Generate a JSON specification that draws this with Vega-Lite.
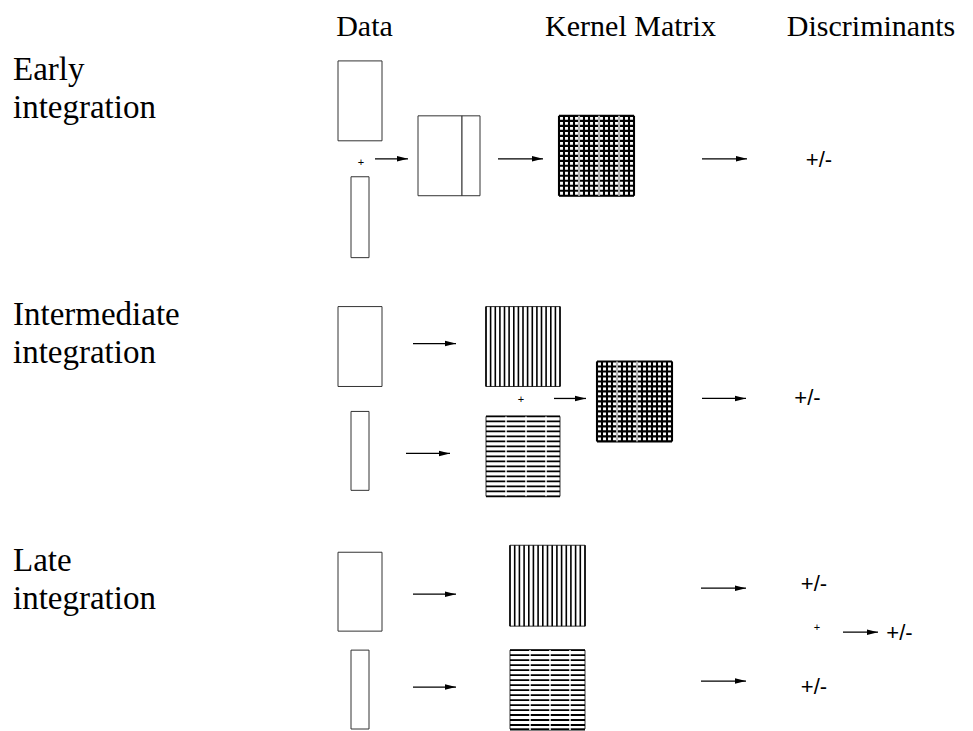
{
  "$schema": "https://vega.github.io/schema/vega-lite/v6.json",
  "autosize": {"type": "fit", "contains": "padding"},
  "padding": 0,
  "width": 973,
  "height": 731,
  "background": "white",
  "config": {"view": {"stroke": null}},
  "datasets": {
    "headers": [
      {"t": "Data", "x": 364.5, "y": 36},
      {"t": "Kernel Matrix", "x": 630.5, "y": 36},
      {"t": "Discriminants", "x": 871, "y": 36}
    ],
    "side": [
      {"t": "Early", "x": 13, "y": 80},
      {"t": "integration", "x": 13, "y": 118},
      {"t": "Intermediate", "x": 13, "y": 325},
      {"t": "integration", "x": 13, "y": 363},
      {"t": "Late", "x": 13, "y": 572},
      {"t": "integration", "x": 13, "y": 610}
    ],
    "pm": [
      {"t": "+/-", "x": 819, "y": 160},
      {"t": "+/-", "x": 807.5, "y": 399},
      {"t": "+/-", "x": 814, "y": 585},
      {"t": "+/-", "x": 899.5, "y": 634},
      {"t": "+/-", "x": 814, "y": 688}
    ],
    "plus": [
      {"t": "+", "x": 361, "y": 163},
      {"t": "+", "x": 521, "y": 401},
      {"t": "+", "x": 817, "y": 629}
    ],
    "box": [
      {"m": "earlyA", "x": 338, "x2": 382, "y": 61, "y2": 141},
      {"m": "earlyB", "x": 351, "x2": 369, "y": 177, "y2": 258},
      {"m": "earlyC1", "x": 418, "x2": 462, "y": 116, "y2": 196},
      {"m": "earlyC2", "x": 462, "x2": 480, "y": 116, "y2": 196},
      {"m": "interA", "x": 338, "x2": 382, "y": 307, "y2": 387},
      {"m": "interB", "x": 351, "x2": 369, "y": 412, "y2": 491},
      {"m": "lateA", "x": 338, "x2": 382, "y": 553, "y2": 632},
      {"m": "lateB", "x": 351, "x2": 369, "y": 651, "y2": 730},
      {"m": "earlyK", "x": 559, "x2": 634, "y": 116, "y2": 196},
      {"m": "interV", "x": 486, "x2": 560, "y": 307, "y2": 387},
      {"m": "interH", "x": 486, "x2": 560, "y": 417, "y2": 497},
      {"m": "interK", "x": 597, "x2": 672, "y": 362, "y2": 442},
      {"m": "lateV", "x": 510, "x2": 585, "y": 546, "y2": 627},
      {"m": "lateH", "x": 510, "x2": 585, "y": 651, "y2": 730}
    ],
    "kv": [
      {"m": "earlyK", "x": 559, "y": 116, "y2": 196},
      {"m": "earlyK", "x": 564, "y": 116, "y2": 196},
      {"m": "earlyK", "x": 569, "y": 116, "y2": 196},
      {"m": "earlyK", "x": 574, "y": 116, "y2": 196},
      {"m": "earlyK", "x": 579, "y": 116, "y2": 196},
      {"m": "earlyK", "x": 584, "y": 116, "y2": 196},
      {"m": "earlyK", "x": 589, "y": 116, "y2": 196},
      {"m": "earlyK", "x": 594, "y": 116, "y2": 196},
      {"m": "earlyK", "x": 599, "y": 116, "y2": 196},
      {"m": "earlyK", "x": 604, "y": 116, "y2": 196},
      {"m": "earlyK", "x": 609, "y": 116, "y2": 196},
      {"m": "earlyK", "x": 614, "y": 116, "y2": 196},
      {"m": "earlyK", "x": 619, "y": 116, "y2": 196},
      {"m": "earlyK", "x": 624, "y": 116, "y2": 196},
      {"m": "earlyK", "x": 629, "y": 116, "y2": 196},
      {"m": "earlyK", "x": 634, "y": 116, "y2": 196},
      {"m": "interK", "x": 597, "y": 362, "y2": 442},
      {"m": "interK", "x": 602, "y": 362, "y2": 442},
      {"m": "interK", "x": 607, "y": 362, "y2": 442},
      {"m": "interK", "x": 612, "y": 362, "y2": 442},
      {"m": "interK", "x": 617, "y": 362, "y2": 442},
      {"m": "interK", "x": 622, "y": 362, "y2": 442},
      {"m": "interK", "x": 627, "y": 362, "y2": 442},
      {"m": "interK", "x": 632, "y": 362, "y2": 442},
      {"m": "interK", "x": 637, "y": 362, "y2": 442},
      {"m": "interK", "x": 642, "y": 362, "y2": 442},
      {"m": "interK", "x": 647, "y": 362, "y2": 442},
      {"m": "interK", "x": 652, "y": 362, "y2": 442},
      {"m": "interK", "x": 657, "y": 362, "y2": 442},
      {"m": "interK", "x": 662, "y": 362, "y2": 442},
      {"m": "interK", "x": 667, "y": 362, "y2": 442},
      {"m": "interK", "x": 672, "y": 362, "y2": 442}
    ],
    "kh": [
      {"m": "earlyK", "y": 116, "x": 559, "x2": 634},
      {"m": "earlyK", "y": 121, "x": 559, "x2": 634},
      {"m": "earlyK", "y": 126, "x": 559, "x2": 634},
      {"m": "earlyK", "y": 131, "x": 559, "x2": 634},
      {"m": "earlyK", "y": 136, "x": 559, "x2": 634},
      {"m": "earlyK", "y": 141, "x": 559, "x2": 634},
      {"m": "earlyK", "y": 146, "x": 559, "x2": 634},
      {"m": "earlyK", "y": 151, "x": 559, "x2": 634},
      {"m": "earlyK", "y": 156, "x": 559, "x2": 634},
      {"m": "earlyK", "y": 161, "x": 559, "x2": 634},
      {"m": "earlyK", "y": 166, "x": 559, "x2": 634},
      {"m": "earlyK", "y": 171, "x": 559, "x2": 634},
      {"m": "earlyK", "y": 176, "x": 559, "x2": 634},
      {"m": "earlyK", "y": 181, "x": 559, "x2": 634},
      {"m": "earlyK", "y": 186, "x": 559, "x2": 634},
      {"m": "earlyK", "y": 191, "x": 559, "x2": 634},
      {"m": "earlyK", "y": 196, "x": 559, "x2": 634},
      {"m": "interK", "y": 362, "x": 597, "x2": 672},
      {"m": "interK", "y": 367, "x": 597, "x2": 672},
      {"m": "interK", "y": 372, "x": 597, "x2": 672},
      {"m": "interK", "y": 377, "x": 597, "x2": 672},
      {"m": "interK", "y": 382, "x": 597, "x2": 672},
      {"m": "interK", "y": 387, "x": 597, "x2": 672},
      {"m": "interK", "y": 392, "x": 597, "x2": 672},
      {"m": "interK", "y": 397, "x": 597, "x2": 672},
      {"m": "interK", "y": 402, "x": 597, "x2": 672},
      {"m": "interK", "y": 407, "x": 597, "x2": 672},
      {"m": "interK", "y": 412, "x": 597, "x2": 672},
      {"m": "interK", "y": 417, "x": 597, "x2": 672},
      {"m": "interK", "y": 422, "x": 597, "x2": 672},
      {"m": "interK", "y": 427, "x": 597, "x2": 672},
      {"m": "interK", "y": 432, "x": 597, "x2": 672},
      {"m": "interK", "y": 437, "x": 597, "x2": 672},
      {"m": "interK", "y": 442, "x": 597, "x2": 672}
    ],
    "sv": [
      {"m": "interV", "x": 486, "y": 307, "y2": 387},
      {"m": "interV", "x": 490.6, "y": 307, "y2": 387},
      {"m": "interV", "x": 495.3, "y": 307, "y2": 387},
      {"m": "interV", "x": 499.9, "y": 307, "y2": 387},
      {"m": "interV", "x": 504.5, "y": 307, "y2": 387},
      {"m": "interV", "x": 509.1, "y": 307, "y2": 387},
      {"m": "interV", "x": 513.8, "y": 307, "y2": 387},
      {"m": "interV", "x": 518.4, "y": 307, "y2": 387},
      {"m": "interV", "x": 523, "y": 307, "y2": 387},
      {"m": "interV", "x": 527.6, "y": 307, "y2": 387},
      {"m": "interV", "x": 532.3, "y": 307, "y2": 387},
      {"m": "interV", "x": 536.9, "y": 307, "y2": 387},
      {"m": "interV", "x": 541.5, "y": 307, "y2": 387},
      {"m": "interV", "x": 546.1, "y": 307, "y2": 387},
      {"m": "interV", "x": 550.8, "y": 307, "y2": 387},
      {"m": "interV", "x": 555.4, "y": 307, "y2": 387},
      {"m": "interV", "x": 560, "y": 307, "y2": 387},
      {"m": "lateV", "x": 510, "y": 546, "y2": 627},
      {"m": "lateV", "x": 514.7, "y": 546, "y2": 627},
      {"m": "lateV", "x": 519.4, "y": 546, "y2": 627},
      {"m": "lateV", "x": 524.1, "y": 546, "y2": 627},
      {"m": "lateV", "x": 528.8, "y": 546, "y2": 627},
      {"m": "lateV", "x": 533.4, "y": 546, "y2": 627},
      {"m": "lateV", "x": 538.1, "y": 546, "y2": 627},
      {"m": "lateV", "x": 542.8, "y": 546, "y2": 627},
      {"m": "lateV", "x": 547.5, "y": 546, "y2": 627},
      {"m": "lateV", "x": 552.2, "y": 546, "y2": 627},
      {"m": "lateV", "x": 556.9, "y": 546, "y2": 627},
      {"m": "lateV", "x": 561.6, "y": 546, "y2": 627},
      {"m": "lateV", "x": 566.3, "y": 546, "y2": 627},
      {"m": "lateV", "x": 570.9, "y": 546, "y2": 627},
      {"m": "lateV", "x": 575.6, "y": 546, "y2": 627},
      {"m": "lateV", "x": 580.3, "y": 546, "y2": 627},
      {"m": "lateV", "x": 585, "y": 546, "y2": 627}
    ],
    "sh": [
      {"m": "interH", "y": 417, "x": 486, "x2": 560},
      {"m": "interH", "y": 422, "x": 486, "x2": 560},
      {"m": "interH", "y": 427, "x": 486, "x2": 560},
      {"m": "interH", "y": 432, "x": 486, "x2": 560},
      {"m": "interH", "y": 437, "x": 486, "x2": 560},
      {"m": "interH", "y": 442, "x": 486, "x2": 560},
      {"m": "interH", "y": 447, "x": 486, "x2": 560},
      {"m": "interH", "y": 452, "x": 486, "x2": 560},
      {"m": "interH", "y": 457, "x": 486, "x2": 560},
      {"m": "interH", "y": 462, "x": 486, "x2": 560},
      {"m": "interH", "y": 467, "x": 486, "x2": 560},
      {"m": "interH", "y": 472, "x": 486, "x2": 560},
      {"m": "interH", "y": 477, "x": 486, "x2": 560},
      {"m": "interH", "y": 482, "x": 486, "x2": 560},
      {"m": "interH", "y": 487, "x": 486, "x2": 560},
      {"m": "interH", "y": 492, "x": 486, "x2": 560},
      {"m": "interH", "y": 497, "x": 486, "x2": 560},
      {"m": "lateH", "y": 651, "x": 510, "x2": 585},
      {"m": "lateH", "y": 656, "x": 510, "x2": 585},
      {"m": "lateH", "y": 661, "x": 510, "x2": 585},
      {"m": "lateH", "y": 666, "x": 510, "x2": 585},
      {"m": "lateH", "y": 671, "x": 510, "x2": 585},
      {"m": "lateH", "y": 676, "x": 510, "x2": 585},
      {"m": "lateH", "y": 681, "x": 510, "x2": 585},
      {"m": "lateH", "y": 686, "x": 510, "x2": 585},
      {"m": "lateH", "y": 691, "x": 510, "x2": 585},
      {"m": "lateH", "y": 696, "x": 510, "x2": 585},
      {"m": "lateH", "y": 701, "x": 510, "x2": 585},
      {"m": "lateH", "y": 706, "x": 510, "x2": 585},
      {"m": "lateH", "y": 711, "x": 510, "x2": 585},
      {"m": "lateH", "y": 716, "x": 510, "x2": 585},
      {"m": "lateH", "y": 721, "x": 510, "x2": 585},
      {"m": "lateH", "y": 726, "x": 510, "x2": 585},
      {"m": "lateH", "y": 730.5, "x": 510, "x2": 585}
    ],
    "gap": [
      {"m": "earlyK", "x": 579, "y": 116, "y2": 196},
      {"m": "earlyK", "x": 599, "y": 116, "y2": 196},
      {"m": "earlyK", "x": 619, "y": 116, "y2": 196},
      {"m": "interK", "x": 617, "y": 362, "y2": 442},
      {"m": "interK", "x": 637, "y": 362, "y2": 442},
      {"m": "interH", "x": 506, "y": 417, "y2": 497},
      {"m": "interH", "x": 526, "y": 417, "y2": 497},
      {"m": "interH", "x": 546, "y": 417, "y2": 497},
      {"m": "lateH", "x": 530, "y": 651, "y2": 731},
      {"m": "lateH", "x": 550, "y": 651, "y2": 731},
      {"m": "lateH", "x": 570, "y": 651, "y2": 731}
    ],
    "arrow": [
      {"x": 375, "x2": 408, "y": 159},
      {"x": 498, "x2": 543, "y": 159},
      {"x": 702, "x2": 747, "y": 159},
      {"x": 413, "x2": 456, "y": 344},
      {"x": 406, "x2": 450, "y": 454},
      {"x": 554, "x2": 586, "y": 399},
      {"x": 702, "x2": 746, "y": 399},
      {"x": 413, "x2": 456, "y": 595},
      {"x": 413, "x2": 456, "y": 688},
      {"x": 701, "x2": 746, "y": 589},
      {"x": 843, "x2": 878, "y": 633},
      {"x": 701, "x2": 746, "y": 682}
    ]
  },
  "layer": [
    {
      "data": {"name": "box"},
      "mark": {"type": "rect", "fill": "white", "stroke": "#333333", "strokeWidth": 1},
      "encoding": {
        "x": {"field": "x", "type": "quantitative", "scale": {"domain": [0, 973], "nice": false, "zero": false}, "axis": null},
        "x2": {"field": "x2"},
        "y": {"field": "y", "type": "quantitative", "scale": {"domain": [0, 731], "nice": false, "zero": false, "reverse": true}, "axis": null},
        "y2": {"field": "y2"}
      }
    },
    {
      "data": {"name": "kv"},
      "mark": {"type": "rule", "color": "black", "strokeWidth": 2.1},
      "encoding": {
        "x": {"field": "x", "type": "quantitative", "scale": {"domain": [0, 973], "nice": false, "zero": false}, "axis": null},
        "y": {"field": "y", "type": "quantitative", "scale": {"domain": [0, 731], "nice": false, "zero": false, "reverse": true}, "axis": null},
        "y2": {"field": "y2"}
      }
    },
    {
      "data": {"name": "kh"},
      "mark": {"type": "rule", "color": "black", "strokeWidth": 2.2},
      "encoding": {
        "y": {"field": "y", "type": "quantitative", "scale": {"domain": [0, 731], "nice": false, "zero": false, "reverse": true}, "axis": null},
        "x": {"field": "x", "type": "quantitative", "scale": {"domain": [0, 973], "nice": false, "zero": false}, "axis": null},
        "x2": {"field": "x2"}
      }
    },
    {
      "data": {"name": "sv"},
      "mark": {"type": "rule", "color": "black", "strokeWidth": 1.6},
      "encoding": {
        "x": {"field": "x", "type": "quantitative", "scale": {"domain": [0, 973], "nice": false, "zero": false}, "axis": null},
        "y": {"field": "y", "type": "quantitative", "scale": {"domain": [0, 731], "nice": false, "zero": false, "reverse": true}, "axis": null},
        "y2": {"field": "y2"}
      }
    },
    {
      "data": {"name": "sh"},
      "mark": {"type": "rule", "color": "black", "strokeWidth": 1.8},
      "encoding": {
        "y": {"field": "y", "type": "quantitative", "scale": {"domain": [0, 731], "nice": false, "zero": false, "reverse": true}, "axis": null},
        "x": {"field": "x", "type": "quantitative", "scale": {"domain": [0, 973], "nice": false, "zero": false}, "axis": null},
        "x2": {"field": "x2"}
      }
    },
    {
      "data": {"name": "gap"},
      "mark": {"type": "rule", "color": "white", "strokeWidth": 1.4},
      "encoding": {
        "x": {"field": "x", "type": "quantitative", "scale": {"domain": [0, 973], "nice": false, "zero": false}, "axis": null},
        "y": {"field": "y", "type": "quantitative", "scale": {"domain": [0, 731], "nice": false, "zero": false, "reverse": true}, "axis": null},
        "y2": {"field": "y2"}
      }
    },
    {
      "data": {"name": "arrow"},
      "mark": {"type": "rule", "color": "black", "strokeWidth": 1.3},
      "encoding": {
        "y": {"field": "y", "type": "quantitative", "scale": {"domain": [0, 731], "nice": false, "zero": false, "reverse": true}, "axis": null},
        "x": {"field": "x", "type": "quantitative", "scale": {"domain": [0, 973], "nice": false, "zero": false}, "axis": null},
        "x2": {"field": "x2"}
      }
    },
    {
      "data": {"name": "arrow"},
      "mark": {"type": "point", "shape": "M-2,-0.5L0,0L-2,0.5Z", "filled": true, "color": "black", "opacity": 1, "size": 121, "strokeWidth": 0},
      "encoding": {
        "x": {"field": "x2", "type": "quantitative", "scale": {"domain": [0, 973], "nice": false, "zero": false}, "axis": null},
        "y": {"field": "y", "type": "quantitative", "scale": {"domain": [0, 731], "nice": false, "zero": false, "reverse": true}, "axis": null}
      }
    },
    {
      "data": {"name": "headers"},
      "mark": {"type": "text", "font": "Liberation Serif, Times New Roman, DejaVu Serif, serif", "fontSize": 30, "align": "center", "baseline": "alphabetic", "color": "black"},
      "encoding": {
        "x": {"field": "x", "type": "quantitative", "scale": {"domain": [0, 973], "nice": false, "zero": false}, "axis": null},
        "y": {"field": "y", "type": "quantitative", "scale": {"domain": [0, 731], "nice": false, "zero": false, "reverse": true}, "axis": null},
        "text": {"field": "t"}
      }
    },
    {
      "data": {"name": "side"},
      "mark": {"type": "text", "font": "Liberation Serif, Times New Roman, DejaVu Serif, serif", "fontSize": 33, "align": "left", "baseline": "alphabetic", "color": "black"},
      "encoding": {
        "x": {"field": "x", "type": "quantitative", "scale": {"domain": [0, 973], "nice": false, "zero": false}, "axis": null},
        "y": {"field": "y", "type": "quantitative", "scale": {"domain": [0, 731], "nice": false, "zero": false, "reverse": true}, "axis": null},
        "text": {"field": "t"}
      }
    },
    {
      "data": {"name": "pm"},
      "mark": {"type": "text", "font": "Liberation Sans, Arial, sans-serif", "fontSize": 22, "align": "center", "baseline": "middle", "color": "black"},
      "encoding": {
        "x": {"field": "x", "type": "quantitative", "scale": {"domain": [0, 973], "nice": false, "zero": false}, "axis": null},
        "y": {"field": "y", "type": "quantitative", "scale": {"domain": [0, 731], "nice": false, "zero": false, "reverse": true}, "axis": null},
        "text": {"field": "t"}
      }
    },
    {
      "data": {"name": "plus"},
      "mark": {"type": "text", "font": "Liberation Sans, Arial, sans-serif", "fontSize": 11, "align": "center", "baseline": "middle", "color": "black"},
      "encoding": {
        "x": {"field": "x", "type": "quantitative", "scale": {"domain": [0, 973], "nice": false, "zero": false}, "axis": null},
        "y": {"field": "y", "type": "quantitative", "scale": {"domain": [0, 731], "nice": false, "zero": false, "reverse": true}, "axis": null},
        "text": {"field": "t"}
      }
    }
  ]
}
